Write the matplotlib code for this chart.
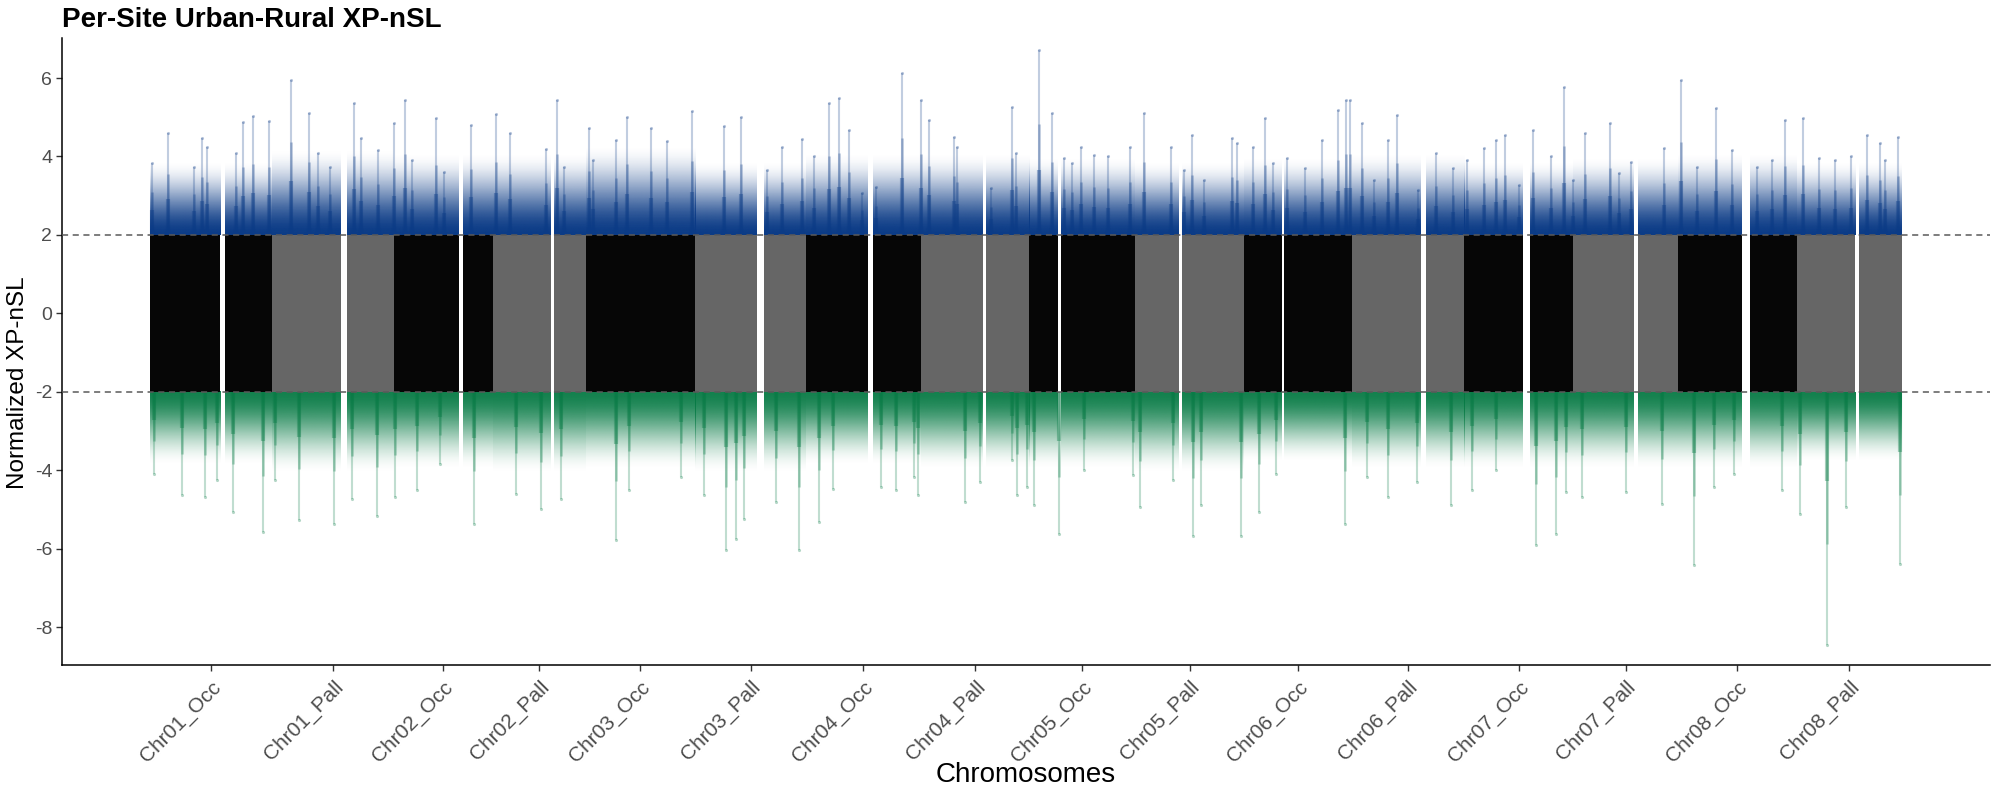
import numpy as np
import matplotlib
matplotlib.use("Agg")
import matplotlib.pyplot as plt
from matplotlib.collections import LineCollection
from matplotlib.colors import to_rgb

plt.rcParams['font.family'] = ['Liberation Sans', 'DejaVu Sans']
plt.rcParams['axes.unicode_minus'] = False

# ---------------- data ----------------
chromosomes = ["Chr01_Occ", "Chr01_Pall", "Chr02_Occ", "Chr02_Pall",
               "Chr03_Occ", "Chr03_Pall", "Chr04_Occ", "Chr04_Pall",
               "Chr05_Occ", "Chr05_Pall", "Chr06_Occ", "Chr06_Pall",
               "Chr07_Occ", "Chr07_Pall", "Chr08_Occ", "Chr08_Pall"]
# chromosome lengths (genomic units, 100 kb)
chrom_len = [123, 122, 99, 93, 110, 111, 115, 109,
             106, 109, 108, 113, 109, 105, 119, 106]
# regions without data (cumulative position)
gap_start = [71, 192, 310, 402, 609, 720, 835, 911, 1032, 1135, 1274, 1377, 1488, 1596, 1710]
gap_end   = [76, 198, 314, 405, 616, 725, 838, 914, 1035, 1137, 1279, 1384, 1492, 1604, 1714]

threshold = 2.0
# level where the dense cloud of outlier sites fades out, per chromosome
top_fade = [3.9, 4.2, 4.1, 4.1, 4.3, 3.9, 4.1, 4.1, 4.0, 3.9, 4.0, 4.1, 3.9, 4.0, 4.1, 3.9]
bottom_fade = [-3.9, -4.1, -4.0, -4.1, -4.0, -4.1, -3.9, -4.0,
               -4.0, -4.1, -3.8, -4.0, -4.0, -4.0, -4.0, -3.8]

# strongest positive peaks (cumulative position, normalized XP-nSL)
top_peak_pos = [2, 18, 44, 52, 58, 87, 94, 104, 120, 142, 160, 169, 181, 205, 212, 229,
                245, 256, 263, 287, 295, 322, 347, 361, 397, 408, 415, 440, 444, 467, 479,
                503, 519, 544, 576, 593, 619, 634, 654, 666, 681, 691, 701, 714, 728, 754,
                773, 781, 806, 809, 843, 864, 868, 892, 905, 917, 925, 934, 947, 961, 983,
                997, 1024, 1037, 1045, 1057, 1085, 1090, 1106, 1118, 1126, 1140, 1158, 1175,
                1191, 1199, 1203, 1215, 1227, 1241, 1250, 1271, 1289, 1307, 1321, 1338, 1350,
                1359, 1373, 1387, 1405, 1418, 1427, 1439, 1464, 1473, 1485, 1518, 1535, 1551,
                1570, 1586, 1611, 1626, 1639, 1657, 1673, 1689, 1706, 1722, 1735, 1740, 1753]
top_peak_val = [3.83, 4.59, 3.74, 4.47, 4.25, 4.08, 4.87, 5.02, 4.90, 5.95, 5.10, 4.08, 3.74, 5.36, 4.47, 4.17,
                4.85, 5.44, 3.90, 4.98, 3.60, 4.80, 5.09, 4.60, 4.20, 5.44, 3.74, 4.72, 3.90, 4.42, 5.00,
                4.72, 4.40, 5.15, 4.78, 5.00, 3.66, 4.25, 4.44, 4.00, 5.36, 5.49, 4.68, 3.06, 3.23, 6.12,
                5.44, 4.93, 4.50, 4.25, 3.19, 5.27, 4.08, 6.72, 5.10, 3.96, 3.83, 4.25, 4.04, 4.00, 4.25,
                5.10, 4.25, 3.66, 4.55, 3.40, 4.47, 4.34, 4.25, 4.98, 3.83, 3.96, 3.70, 4.42,
                5.19, 5.44, 5.44, 4.85, 3.40, 4.42, 5.06, 3.15, 4.08, 3.70, 3.90, 4.21, 4.42,
                4.55, 3.28, 4.68, 4.00, 5.78, 3.40, 4.59, 4.85, 3.57, 3.87, 4.21, 5.95, 3.74,
                5.23, 4.17, 3.74, 3.90, 4.93, 4.98, 3.96, 3.90, 4.00, 4.55, 4.34, 3.90, 4.50]

# strongest negative peaks
bot_peak_pos = [4, 32, 55, 68, 84, 114, 126, 150, 185, 203, 228, 246, 268, 291, 325, 367,
                392, 412, 467, 481, 533, 556, 578, 588, 596, 628, 651, 671, 685, 733, 748,
                766, 770, 817, 832, 864, 869, 880, 887, 912, 937, 986, 993, 1026, 1046, 1054,
                1094, 1112, 1129, 1198, 1220, 1241, 1270, 1305, 1326, 1350, 1390, 1410, 1420,
                1436, 1480, 1516, 1548, 1568, 1588, 1636, 1654, 1681, 1700, 1755]
bot_peak_val = [-4.08, -4.64, -4.68, -4.25, -5.06, -5.57, -4.25, -5.27, -5.36, -4.72, -5.17, -4.68, -4.50, -3.83, -5.36, -4.59,
                -4.98, -4.72, -5.77, -4.50, -4.17, -4.64, -6.04, -5.74, -5.23, -4.81, -6.04, -5.32, -4.47, -4.42, -4.50,
                -4.17, -4.64, -4.81, -4.30, -3.74, -4.64, -4.42, -4.89, -5.61, -4.00, -4.13, -4.93, -4.25, -5.66, -4.89,
                -5.66, -5.06, -4.08, -5.36, -4.17, -4.68, -4.30, -4.89, -4.50, -4.00, -5.91, -5.61, -4.55,
                -4.68, -4.55, -4.85, -6.42, -4.42, -4.08, -4.50, -5.10, -8.46, -4.93, -6.38]

# ---------------- styles ----------------
core_colors = ["#060606", "#666666"]
up_color = "#0b3b86"
down_color = "#067a44"

ends = np.cumsum(chrom_len)
starts = ends - np.array(chrom_len)
centers = (starts + ends) / 2.0

fig = plt.figure(figsize=(20, 8), dpi=100)
ax = fig.add_axes([0.031, 0.16875, 0.964, 0.78375])


def segments(s, e):
    segs = []
    cur = s
    for gs, ge in sorted(zip(gap_start, gap_end)):
        if gs >= s and ge <= e:
            segs.append((cur, gs))
            cur = ge
    segs.append((cur, e))
    return segs


def gradient(rgb, n=200, a0=1.0, reverse=False):
    t = np.linspace(0, 1, n)
    a = a0 * (1 - t * t * (3 - 2 * t))
    if reverse:
        a = a[::-1]
    img = np.zeros((n, 1, 4))
    img[..., :3] = rgb
    img[:, 0, 3] = a
    return img


up_img = gradient(to_rgb(up_color))
down_img = gradient(to_rgb(down_color), a0=0.95, reverse=True)

for i in range(len(chromosomes)):
    for (x0, x1) in segments(starts[i], ends[i]):
        ax.bar(x0, 2 * threshold, width=x1 - x0, bottom=-threshold, align='edge',
               color=core_colors[i % 2], linewidth=0, zorder=2)
        ax.imshow(up_img, extent=[x0, x1, threshold, top_fade[i]], origin='lower',
                  aspect='auto', interpolation='bilinear', zorder=1)
        ax.imshow(down_img, extent=[x0, x1, bottom_fade[i], -threshold], origin='lower',
                  aspect='auto', interpolation='bilinear', zorder=1)

# spikes of outlier sites
tp = np.array(top_peak_pos, float)
tv = np.array(top_peak_val, float)
bp = np.array(bot_peak_pos, float)
bv = np.array(bot_peak_val, float)

for frac, alpha, lw in [(1.0, 0.25, 1.5), (0.6, 0.30, 1.8), (0.35, 0.35, 3.0)]:
    segs = [[(x, threshold), (x, threshold + frac * (v - threshold))] for x, v in zip(tp, tv)]
    ax.add_collection(LineCollection(segs, colors=up_color, alpha=alpha, linewidths=lw, zorder=1.5))
    segs = [[(x, -threshold), (x, -threshold + frac * (v + threshold))] for x, v in zip(bp, bv)]
    ax.add_collection(LineCollection(segs, colors=down_color, alpha=alpha, linewidths=lw, zorder=1.5))
ax.scatter(tp, tv, s=5, color=up_color, alpha=0.3, linewidths=0, zorder=1.6)
ax.scatter(bp, bv, s=5, color=down_color, alpha=0.3, linewidths=0, zorder=1.6)

for y in (threshold, -threshold):
    ax.axhline(y, color="#5a5a5a", linestyle=(0, (4, 3)), linewidth=1.1, zorder=4)

# ---------------- axes ----------------
span = ends[-1] - starts[0]
ax.set_xlim(starts[0] - 0.05 * span, ends[-1] + 0.05 * span)
ax.set_ylim(-8.96, 7.02)

ax.set_xticks(centers)
ax.set_xticklabels(chromosomes, rotation=45, ha='right', va='top',
                   rotation_mode='anchor', fontsize=15, color="#4d4d4d")
ax.set_yticks([-8, -6, -4, -2, 0, 2, 4, 6])
ax.set_yticklabels(["-8", "-6", "-4", "-2", "0", "2", "4", "6"], fontsize=14, color="#4d4d4d")
ax.tick_params(axis='both', length=4, width=1.0, color="#333333")
ax.tick_params(axis='x', pad=5)
ax.tick_params(axis='y', pad=3)

for s in ("top", "right"):
    ax.spines[s].set_visible(False)
for s in ("left", "bottom"):
    ax.spines[s].set_linewidth(1.1)
    ax.spines[s].set_color("black")

fig.text(0.031, 1 - 27 / 800, "Per-Site Urban-Rural XP-nSL", fontsize=20,
         fontweight='bold', ha='left', va='baseline')
fig.text(18 / 2000, 0.522, "Normalized XP-nSL", rotation=90, fontsize=17.5,
         ha='center', va='center')
fig.text(0.513, 1 - 775 / 800, "Chromosomes", fontsize=20, ha='center', va='center')

fig.savefig("out.png", dpi=100)
